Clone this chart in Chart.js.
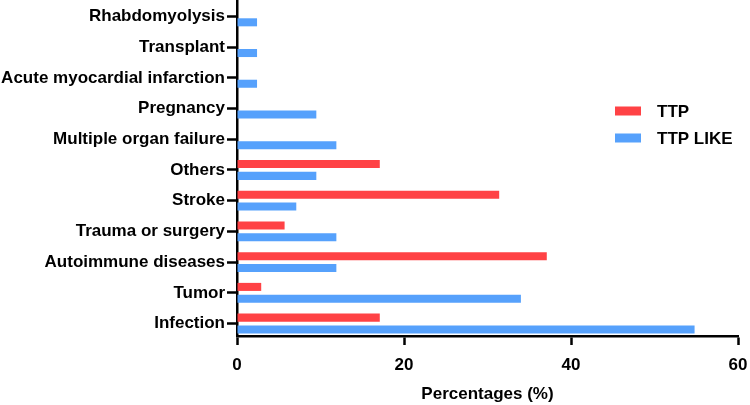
<!DOCTYPE html>
<html>
<head>
<meta charset="utf-8">
<script src="https://cdn.jsdelivr.net/npm/chart.js@4"></script>
<style>
html,body{margin:0;padding:0;background:#fff;}
#wrap{width:750px;height:405px;position:relative;}
</style>
</head>
<body>
<div id="wrap"><canvas id="c"></canvas></div>
<script>
const categories = ['Rhabdomyolysis', 'Transplant', 'Acute myocardial infarction', 'Pregnancy', 'Multiple organ failure', 'Others', 'Stroke', 'Trauma or surgery', 'Autoimmune diseases', 'Tumor', 'Infection'];
const ttpValues = [0, 0, 0, 0, 0, 17.1, 31.4, 5.7, 37.1, 2.9, 17.1];
const ttpLikeValues = [2.4, 2.4, 2.4, 9.5, 11.9, 9.5, 7.1, 11.9, 11.9, 34.0, 54.8];
const seriesNames = ['TTP', 'TTP LIKE'];
const xTicks = [0, 20, 40, 60];
const xTitle = 'Percentages (%)';

const RED = 'rgb(255,66,69)';
const BLUE = 'rgb(86,161,252)';
const FONT = 'Liberation Sans, Arial, sans-serif';

const legendPlugin = {
  id: 'customLegend',
  afterDraw(chart) {
    const ctx = chart.ctx;
    const items = chart.data.datasets;
    const ys = [111, 138];
    ctx.save();
    ctx.font = 'bold 17px ' + FONT;
    ctx.textBaseline = 'middle';
    ctx.textAlign = 'left';
    items.forEach((ds, i) => {
      ctx.fillStyle = ds.backgroundColor;
      ctx.fillRect(615, ys[i] - 4.5, 26, 9);
      ctx.fillStyle = '#000';
      ctx.fillText(ds.label, 657, ys[i] + 1);
    });
    ctx.restore();
  }
};

new Chart(document.getElementById('c'), {
  type: 'bar',
  data: {
    labels: categories,
    datasets: [
      { label: seriesNames[0], data: ttpValues, backgroundColor: RED, categoryPercentage: 0.77, barPercentage: 0.68 },
      { label: seriesNames[1], data: ttpLikeValues, backgroundColor: BLUE, categoryPercentage: 0.77, barPercentage: 0.68 }
    ]
  },
  options: {
    indexAxis: 'y',
    responsive: true,
    maintainAspectRatio: false,
    animation: false,
    layout: { padding: { left: 0, right: 12, top: 0, bottom: 0 } },
    plugins: { legend: { display: false }, tooltip: { enabled: false } },
    scales: {
      y: {
        type: 'category',
        offset: true,
        grid: { display: true, offset: false, drawOnChartArea: false, drawTicks: true, tickLength: 10, tickColor: '#000', tickWidth: 2.5 },
        border: { display: true, color: '#000', width: 2.5 },
        ticks: { color: '#000', font: { family: FONT, size: 17, weight: 'bold' }, padding: 2, autoSkip: false },
        afterBuildTicks(scale) {
          scale._startValue = -0.534;
          scale._valueRange = 10.94;
        },
        afterFit(scale) { scale.width = 237; scale.paddingTop = 0; scale.paddingBottom = 0; }
      },
      x: {
        type: 'linear',
        min: 0,
        max: 60,
        afterBuildTicks(scale) { scale.ticks = xTicks.map(v => ({ value: v })); },
        grid: { display: true, drawOnChartArea: false, drawTicks: true, tickLength: 9, tickColor: '#000', tickWidth: 2.5 },
        border: { display: true, color: '#000', width: 2.5 },
        ticks: { color: '#000', font: { family: FONT, size: 17, weight: 'bold' }, padding: 10 },
        title: { display: true, text: xTitle, color: '#000', font: { family: FONT, size: 17, weight: 'bold' }, padding: { top: 0, bottom: 0 } },
        afterFit(scale) { scale.height = 69; scale.paddingLeft = 0; scale.paddingRight = 0; }
      }
    }
  },
  plugins: [legendPlugin]
});
</script>
</body>
</html>
